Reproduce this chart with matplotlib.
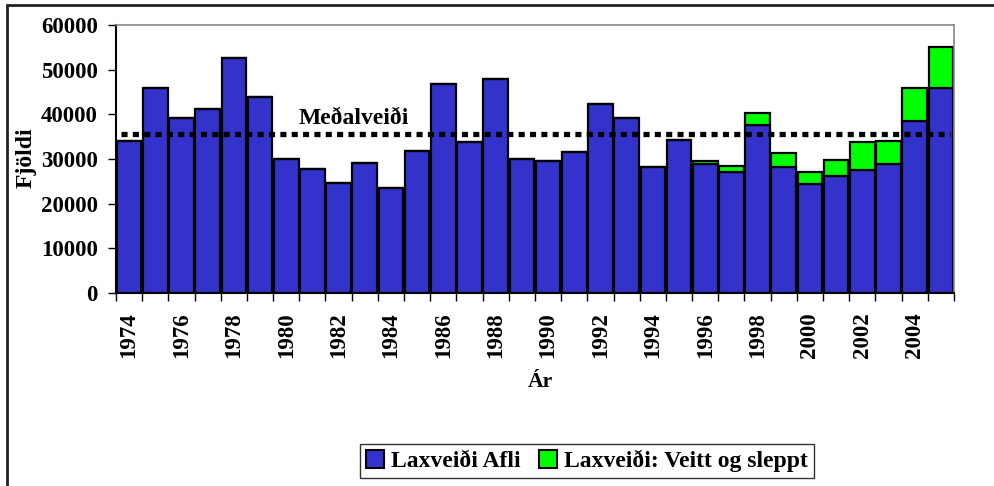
import matplotlib
matplotlib.use("Agg")
import matplotlib.pyplot as plt
from matplotlib.patches import Rectangle

years = list(range(1974, 2006))
afli = [34000, 45800, 39200, 41300, 52700, 43900, 30100, 27800, 24600, 29200,
        23600, 31700, 46700, 33900, 48000, 30100, 29500, 31500, 42400, 39100,
        28100, 34200, 28800, 27100, 37500, 28300, 24400, 26300, 27600, 28800,
        38500, 46000]
veitt = [0, 0, 0, 0, 0, 0, 0, 0, 0, 0,
         0, 0, 0, 0, 0, 0, 0, 0, 0, 0,
         0, 0, 800, 1400, 2800, 3100, 2700, 3500, 6200, 5200,
         7300, 9100]
medalveidi = 35600
year_labels = [str(y) for y in years[::2]]

plt.rcParams['font.family'] = ['Liberation Serif', 'DejaVu Serif']
plt.rcParams['font.weight'] = 'bold'

fig = plt.figure(figsize=(9.95, 4.86), dpi=100)
ax = fig.add_axes([116/995, 1-293/486, (954-116)/995, (293-25)/486])

x = list(range(len(years)))
blue = '#3333CC'
green = '#00FF00'
ax.bar(x, afli, width=0.94, color=blue, edgecolor='black', linewidth=1.6,
       label='Laxveiði Afli', zorder=2)
ax.bar(x, veitt, width=0.94, bottom=afli, color=green, edgecolor='black',
       linewidth=1.6, label='Laxveiði: Veitt og sleppt', zorder=2)

ax.hlines(medalveidi, -0.3, len(years) - 0.65, colors='black', linewidth=3.8,
          linestyles=(0, (1.15, 1.0)), zorder=3)
ax.text(6.49, medalveidi + 2300, 'Meðalveiði', fontsize=17, fontweight='bold',
        ha='left', va='baseline', zorder=4)

ax.set_xlim(-0.5, len(years) - 0.5)
ax.set_ylim(0, 60000)
ax.set_yticks(range(0, 60001, 10000))
ax.tick_params(axis='y', length=6, width=1, pad=7, labelsize=16.5)

ax.set_xticks(x[::2])
ax.set_xticklabels(year_labels, rotation=90, fontsize=16.5, fontweight='bold')
ax.set_xticks([i - 0.5 for i in range(len(years) + 1)], minor=True)
ax.tick_params(axis='x', which='major', length=0, pad=14)
ax.tick_params(axis='x', which='minor', length=6, width=1)

for s in ['top', 'right']:
    ax.spines[s].set_color('#888888')
    ax.spines[s].set_linewidth(1.2)
for s in ['left', 'bottom']:
    ax.spines[s].set_color('black')
    ax.spines[s].set_linewidth(1.5)

fig.text(26/995, 1-158/486, 'Fjöldi', rotation=90, fontsize=17,
         fontweight='bold', ha='center', va='center')
fig.text(540/995, 1-382/486, 'Ár', fontsize=15.5,
         fontweight='bold', ha='center', va='center')

leg = fig.legend(loc='center', bbox_to_anchor=(587/995, 1-461/486), ncol=2,
                 fontsize=17, frameon=True, fancybox=False, edgecolor='black',
                 handlelength=0.75, handleheight=0.75, handletextpad=0.3,
                 columnspacing=0.8, borderpad=0.25)
leg.get_frame().set_linewidth(1.0)
for h in leg.legend_handles:
    h.set_edgecolor('black')
    h.set_linewidth(1.5)

fig.patches.append(Rectangle((7/995, -0.1), 1.2, 1 - 5/486 + 0.1,
                             transform=fig.transFigure, fill=False,
                             edgecolor='#222222', linewidth=2, zorder=0))

fig.savefig('out.png', dpi=100)
